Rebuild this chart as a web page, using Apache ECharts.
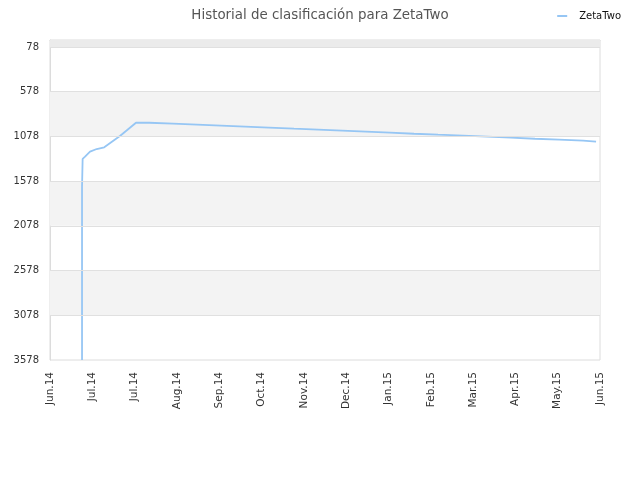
<!DOCTYPE html>
<html><head><meta charset="utf-8">
<script src="https://cdn.jsdelivr.net/npm/echarts@6/dist/echarts.min.js"></script>
<style>html,body{margin:0;padding:0;background:#fff}#c{width:640px;height:480px}</style>
</head><body><div id="c"></div>
<script>
var titleText = 'Historial de clasificación para ZetaTwo';
var seriesName = 'ZetaTwo';
var xTickLabels = ['Jun.14','Jul.14','Jul.14','Aug.14','Sep.14','Oct.14','Nov.14','Dec.14','Jan.15','Feb.15','Mar.15','Apr.15','May.15','Jun.15'];
var yTickValues = [78, 578, 1078, 1578, 2078, 2578, 3078, 3578];
// days since first x tick
var days = [21.2, 21.2, 21.6, 21.6, 23.2, 23.6, 26.5, 30.9, 35.9, 46.5, 56.9,
  65.5, 65.5, 81.4, 81.4, 97.3, 97.3, 113.2, 113.2, 129.1, 129.1, 144.9, 144.9,
  161.5, 161.5, 177.4, 177.4, 193.3, 193.3, 209.1, 209.1, 225.0, 225.0, 240.9, 240.9,
  256.8, 256.8, 273.3, 273.3, 289.2, 289.2, 305.1, 305.1, 321.0, 321.0, 336.9, 336.9,
  352.8, 352.8, 361.4];
var ranks = [3578, 1640, 1640, 1330, 1305, 1286, 1249, 1219, 1200, 1070, 925,
  925, 936, 936, 947, 947, 958, 958, 969, 969, 980, 980, 992,
  992, 1003, 1003, 1014, 1014, 1025, 1025, 1036, 1036, 1048, 1048, 1059,
  1059, 1070, 1070, 1081, 1081, 1092, 1092, 1104, 1104, 1115, 1115, 1126,
  1126, 1137, 1137];
var yMin = 0, yMax = 3578, xStep = 28;

var data = days.map(function (d, i) { return [d, ranks[i]]; });
var bands = [[yMin, yTickValues[0], '#ebebeb']];
for (var i = 1; i < yTickValues.length - 1; i += 2) {
  bands.push([yTickValues[i], yTickValues[i + 1], '#f3f3f3']);
}
var chart = echarts.init(document.getElementById('c'));
chart.setOption({
  animation: false,
  title: { text: titleText, left: 'center', top: 4,
    textStyle: { fontFamily: 'DejaVu Sans', fontSize: 13.4, fontWeight: 'normal', color: '#555' } },
  legend: { right: 14, top: 6, itemWidth: 10, itemHeight: 2, itemGap: 6,
    textStyle: { fontFamily: 'DejaVu Sans', fontSize: 10, color: '#111', padding: [0, 0, 0, 7] },
    data: [{ name: seriesName, icon: 'rect' }] },
  grid: { left: 50, right: 40, top: 40, bottom: 120, show: true, borderColor: '#dcdcdc', borderWidth: 1, backgroundColor: 'transparent' },
  xAxis: { type: 'value', min: 0, max: xStep * (xTickLabels.length - 1), interval: xStep,
    axisLine: { show: true, lineStyle: { color: '#dcdcdc' } },
    axisTick: { show: false }, splitLine: { show: false },
    axisLabel: { rotate: 90, fontFamily: 'DejaVu Sans', fontSize: 10.5, color: '#333', margin: 12,
      formatter: function (v) { return xTickLabels[Math.round(v / xStep)]; } } },
  yAxis: { type: 'value', inverse: true, min: yMin, max: yMax,
    axisLine: { show: true, lineStyle: { color: '#dcdcdc' } },
    axisTick: { show: false }, splitLine: { show: false },
    axisLabel: { customValues: yTickValues, fontFamily: 'DejaVu Sans', fontSize: 10, color: '#333', margin: 11,
      formatter: function (v) { return String(v); } } },
  series: [{
    name: seriesName, type: 'line', data: data, showSymbol: false, symbol: 'none',
    lineStyle: { color: '#96c6f4', width: 1.8 }, itemStyle: { color: '#96c6f4' },
    markArea: { silent: true, itemStyle: {},
      data: bands.map(function (b) { return [{ yAxis: b[0], itemStyle: { color: b[2] } }, { yAxis: b[1] }]; }) },
    markLine: { silent: true, symbol: 'none', label: { show: false },
      lineStyle: { color: '#e0e0e0', type: 'solid', width: 1 },
      data: yTickValues.slice(0, -1).map(function (v) { return { yAxis: v }; }) },
    z: 3
  }]
});
</script></body></html>
